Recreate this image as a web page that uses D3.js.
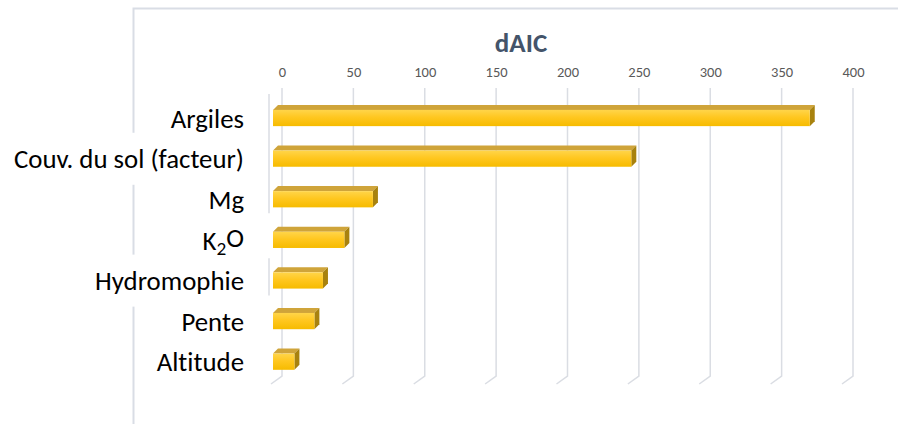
<!DOCTYPE html>
<html>
<head>
<meta charset="utf-8">
<script src="https://cdn.jsdelivr.net/npm/d3@7"></script>
<style>
  html, body { margin: 0; padding: 0; background: #ffffff; }
  svg { display: block; }
  text { font-variant-ligatures: none; font-feature-settings: "liga" 0; }
</style>
</head>
<body>
<div id="chart"></div>
<script>
// ---- data ----
const categories = ["Argiles", "Couv. du sol (facteur)", "Mg", "K2O", "Hydromophie", "Pente", "Altitude"];
const values = [376, 251, 70, 50, 35, 29, 15];
const tickValues = [0, 50, 100, 150, 200, 250, 300, 350, 400];
const title = "dAIC";

const W = 898, H = 424;
const FONT = "Carlito, Calibri, Lato, 'Open Sans', sans-serif";

const svg = d3.select("#chart").append("svg").attr("width", W).attr("height", H);

const defs = svg.append("defs");
const grad = defs.append("linearGradient").attr("id", "front").attr("x1", 0).attr("y1", 0).attr("x2", 0).attr("y2", 1);
grad.append("stop").attr("offset", "0%").attr("stop-color", "#FFD54A");
grad.append("stop").attr("offset", "45%").attr("stop-color", "#FFC720");
grad.append("stop").attr("offset", "100%").attr("stop-color", "#F6BB00");

const x = d3.scaleLinear().domain([0, 400]).range([282, 853]);
const y = d3.scaleBand().domain(categories).range([97.7, 382]).paddingInner(0.6).paddingOuter(0.3);

const gridTop = 88, gridBottom = 376;
const depthX = 11, depthY = 8;     // floor depth projection
const barDX = 9, barDepth = 5;     // bar front offset & thickness

// frame
svg.append("path")
  .attr("d", `M133.5,${H} V8.5 H${W}`)
  .attr("fill", "none").attr("stroke", "#D9DDE5").attr("stroke-width", 2);

// gridlines on back wall with floor diagonals
const grid = svg.append("g");
grid.selectAll("path").data(tickValues).join("path")
  .attr("d", d => `M${x(d)},${gridTop} V${gridBottom} L${x(d) - depthX},${gridBottom + depthY}`)
  .attr("fill", "none").attr("stroke", "#DADDE3").attr("stroke-width", 1.5);

// top axis labels
const xAxis = d3.axisTop(x).tickValues(tickValues).tickSize(0).tickPadding(0);
const gAx = svg.append("g").attr("transform", "translate(0,77)").call(xAxis);
gAx.select(".domain").remove();
gAx.selectAll("text").attr("fill", "#595959").attr("font-family", FONT).attr("font-size", 14.5);

// title
svg.append("text").attr("x", 521).attr("y", 52)
  .attr("text-anchor", "middle").attr("font-family", FONT).attr("font-weight", "bold")
  .attr("font-size", 27).attr("fill", "#44546A").text(title);

// category labels with white backing boxes
const lab = svg.append("g");
const labelX = 244;
categories.forEach((c, i) => {
  const cy = y(c) + y.bandwidth() / 2;
  const t = lab.append("text").attr("x", labelX).attr("y", cy).attr("dy", "0.36em")
    .attr("text-anchor", "end").attr("font-family", FONT).attr("font-size", 20).attr("fill", "#000");
  if (c === "K2O") {
    t.append("tspan").text("K");
    t.append("tspan").attr("font-size", "0.72em").attr("dy", "0.3em").text("2");
    t.append("tspan").attr("dy", "-0.3em").text("O");
  } else {
    t.text(c);
  }
});
// fit label font size (target width of longest label)
const longest = lab.selectAll("text").filter(function(){ return this.textContent === "Couv. du sol (facteur)"; });
const wNow = longest.node().getComputedTextLength();
const fs = 20 * 230 / wNow;
lab.selectAll("text").attr("font-size", fs);
lab.selectAll("text").each(function() {
  const bb = this.getBBox();
  if (bb.x < 133) {
    lab.insert("rect", ":first-child").attr("x", bb.x - 2).attr("y", bb.y + bb.height / 2 - 26)
      .attr("width", bb.width + 4).attr("height", 52).attr("fill", "#fff");
  }
});

// category axis line (partially visible)
const axisSeg = [[y("Argiles") - 16, y("Mg") + y.bandwidth() + 6], [y("Hydromophie") - 14, y("Hydromophie") + y.bandwidth() + 7]];
svg.append("g").selectAll("line").data(axisSeg).join("line")
  .attr("x1", x(0) - 13).attr("x2", x(0) - 13).attr("y1", d => d[0]).attr("y2", d => d[1])
  .attr("stroke", "#DADDE3").attr("stroke-width", 1.5);

// bars
const data = categories.map((c, i) => ({ c, v: values[i] }));
const bars = svg.append("g").selectAll("g").data(data).join("g");
const bh = y.bandwidth();
// top face
bars.append("path")
  .attr("d", d => {
    const x0 = x(0) - barDX, x1 = x(d.v) - barDX, yt = y(d.c);
    return `M${x0},${yt} L${x1},${yt} L${x1 + barDepth},${yt - barDepth} L${x0 + barDepth},${yt - barDepth} Z`;
  })
  .attr("fill", "#CFA43A");
// side face
bars.append("path")
  .attr("d", d => {
    const x1 = x(d.v) - barDX, yt = y(d.c);
    return `M${x1},${yt} L${x1 + barDepth},${yt - barDepth} L${x1 + barDepth},${yt + bh - barDepth} L${x1},${yt + bh} Z`;
  })
  .attr("fill", "#A8820E");
// front face
bars.append("rect")
  .attr("x", x(0) - barDX)
  .attr("y", d => y(d.c))
  .attr("width", d => x(d.v) - x(0))
  .attr("height", bh)
  .attr("fill", "url(#front)");
</script>
</body>
</html>
